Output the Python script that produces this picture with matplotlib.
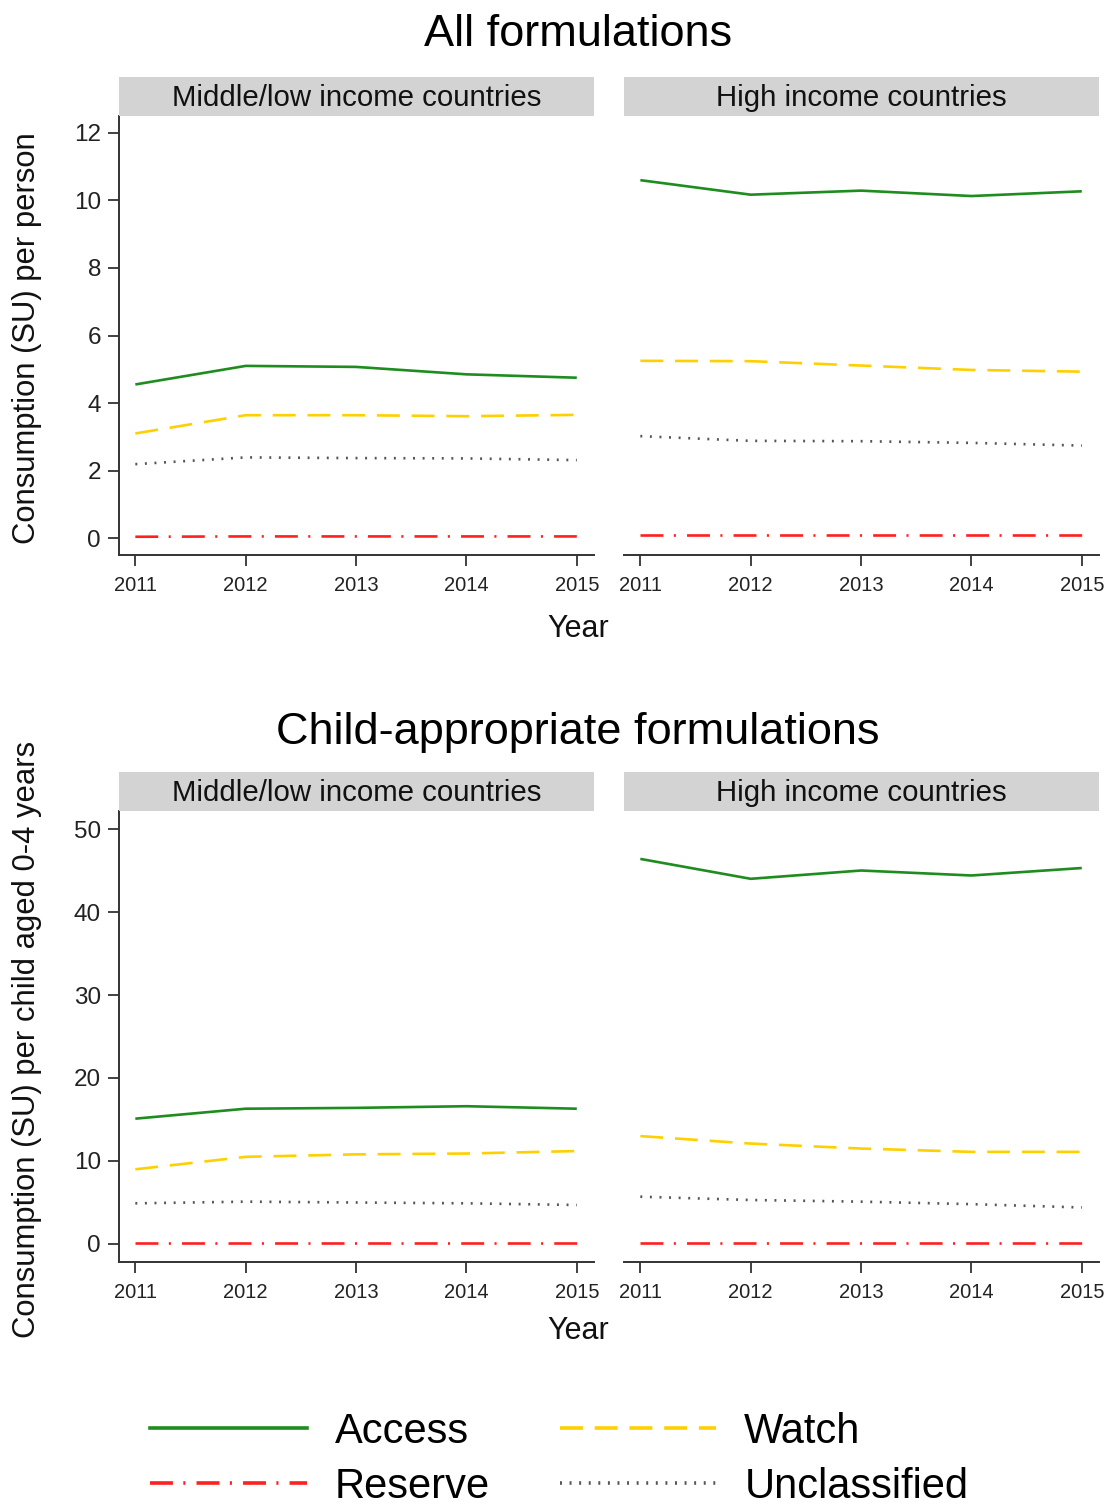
import matplotlib
matplotlib.use("Agg")
import matplotlib.pyplot as plt
from matplotlib.lines import Line2D

plt.rcParams['font.family'] = ['Liberation Sans', 'DejaVu Sans']
plt.rcParams['lines.scale_dashes'] = False

# ---------------- data ----------------
years = [2011, 2012, 2013, 2014, 2015]
series_names = ["Access", "Watch", "Reserve", "Unclassified"]
panel_titles = ["Middle/low income countries", "High income countries"]
section_titles = ["All formulations", "Child-appropriate formulations"]
ylabels = ["Consumption (SU) per person", "Consumption (SU) per child aged 0-4 years"]
yticks_top = [0, 2, 4, 6, 8, 10, 12]
yticks_bottom = [0, 10, 20, 30, 40, 50]

all_lmic_access = [4.55, 5.10, 5.07, 4.85, 4.75]
all_lmic_watch = [3.10, 3.64, 3.64, 3.61, 3.65]
all_lmic_reserve = [0.04, 0.05, 0.05, 0.05, 0.05]
all_lmic_unclass = [2.19, 2.39, 2.37, 2.36, 2.31]

all_hic_access = [10.60, 10.17, 10.29, 10.13, 10.27]
all_hic_watch = [5.25, 5.24, 5.11, 4.98, 4.93]
all_hic_reserve = [0.08, 0.08, 0.08, 0.08, 0.08]
all_hic_unclass = [3.02, 2.88, 2.87, 2.82, 2.74]

child_lmic_access = [15.1, 16.3, 16.4, 16.6, 16.3]
child_lmic_watch = [9.0, 10.5, 10.8, 10.9, 11.2]
child_lmic_reserve = [0.1, 0.1, 0.1, 0.1, 0.1]
child_lmic_unclass = [4.9, 5.1, 5.0, 4.9, 4.7]

child_hic_access = [46.4, 44.0, 45.0, 44.4, 45.3]
child_hic_watch = [13.0, 12.1, 11.5, 11.1, 11.1]
child_hic_reserve = [0.1, 0.1, 0.1, 0.1, 0.1]
child_hic_unclass = [5.7, 5.3, 5.1, 4.8, 4.4]

# ---------------- styles ----------------
styles = {
    "Access": dict(color="#1f8c1f", linestyle="-"),
    "Watch": dict(color="#ffd000", linestyle=(0, (16.5, 8.5))),
    "Reserve": dict(color="#ff2020", linestyle=(0, (16.5, 7.5, 1.5, 8.0))),
    "Unclassified": dict(color="#555555", linestyle=(0, (1.4, 5.5))),
}
LW = 1.9
AX_COLOR = "#333333"

W, H = 1107, 1510
fig = plt.figure(figsize=(W / 100, H / 100), dpi=100)


def fx(px):
    return px / W


def fy(py):
    return 1 - py / H


def make_axes(x0, x1, y0, y1):
    return fig.add_axes([fx(x0), fy(y1), fx(x1 - x0), (y1 - y0) / H])


def draw_panel(ax, data, ylim, yticks, show_y):
    for name in series_names:
        st = styles[name]
        ax.plot(years, data[name], color=st["color"], linestyle=st["linestyle"],
                linewidth=LW, solid_capstyle="butt", dash_capstyle="butt")
    ax.set_xlim(2010.852, 2015.156)
    ax.set_ylim(*ylim)
    ax.set_xticks(years)
    ax.set_xticklabels([str(y) for y in years])
    ax.tick_params(axis="x", direction="out", length=8, width=1.3, colors=AX_COLOR,
                   labelsize=14.5, labelcolor="#222222", pad=7)
    for s in ["top", "right"]:
        ax.spines[s].set_visible(False)
    ax.spines["bottom"].set_color(AX_COLOR)
    ax.spines["bottom"].set_linewidth(1.4)
    if show_y:
        ax.set_yticks(yticks)
        ax.tick_params(axis="y", direction="out", length=8, width=1.3, colors=AX_COLOR,
                       labelsize=17.5, labelcolor="#222222", pad=5)
        ax.spines["left"].set_color(AX_COLOR)
        ax.spines["left"].set_linewidth(1.4)
    else:
        ax.spines["left"].set_visible(False)
        ax.set_yticks([])
    ax.set_facecolor("white")


def draw_strip(x0, x1, y0, y1, text):
    sa = make_axes(x0, x1, y0, y1)
    sa.set_facecolor("#d3d3d3")
    sa.set_xticks([])
    sa.set_yticks([])
    for s in sa.spines.values():
        s.set_visible(False)
    sa.text(0.5, 0.47, text, ha="center", va="center", fontsize=21.2, color="#111111",
            transform=sa.transAxes)


panels_x = [(119, 594), (624, 1099)]

sections = [
    dict(strip=(77, 116), axes=(116, 555), ylim=(-0.5, 12.5), yticks=yticks_top,
         data=[{"Access": all_lmic_access, "Watch": all_lmic_watch,
                "Reserve": all_lmic_reserve, "Unclassified": all_lmic_unclass},
               {"Access": all_hic_access, "Watch": all_hic_watch,
                "Reserve": all_hic_reserve, "Unclassified": all_hic_unclass}],
         title_y=34, year_y=629),
    dict(strip=(772, 811), axes=(811, 1262), ylim=(-2.17, 52.17), yticks=yticks_bottom,
         data=[{"Access": child_lmic_access, "Watch": child_lmic_watch,
                "Reserve": child_lmic_reserve, "Unclassified": child_lmic_unclass},
               {"Access": child_hic_access, "Watch": child_hic_watch,
                "Reserve": child_hic_reserve, "Unclassified": child_hic_unclass}],
         title_y=732, year_y=1331),
]

for si, sec in enumerate(sections):
    for pi, (x0, x1) in enumerate(panels_x):
        ax = make_axes(x0, x1, sec["axes"][0], sec["axes"][1])
        draw_panel(ax, sec["data"][pi], sec["ylim"], sec["yticks"], show_y=(pi == 0))
        draw_strip(x0, x1, sec["strip"][0], sec["strip"][1], panel_titles[pi])
    fig.text(fx(578), fy(sec["title_y"]), section_titles[si], ha="center", va="center",
             fontsize=32.5, color="#000000")
    fig.text(fx(578), fy(sec["year_y"]), "Year", ha="center", va="center",
             fontsize=22, color="#111111")
    yc = (sec["axes"][0] + sec["axes"][1]) / 2 + 3
    fig.text(fx(27), fy(yc), ylabels[si], ha="center", va="center", rotation=90,
             fontsize=22.3, color="#111111")

# ---------------- legend ----------------
order = ["Access", "Reserve", "Watch", "Unclassified"]
handles = [Line2D([], [], color=styles[n]["color"], linestyle=styles[n]["linestyle"],
                  linewidth=2.6, dash_capstyle="butt") for n in order]
leg = fig.legend(handles, order, ncol=2, loc="upper left",
                 bbox_to_anchor=(fx(150), fy(1412)), frameon=False,
                 fontsize=30, handlelength=3.76, handletextpad=0.67,
                 columnspacing=1.68, labelspacing=0.36, borderpad=0, borderaxespad=0)

fig.savefig("out.png", dpi=100, facecolor="white")
